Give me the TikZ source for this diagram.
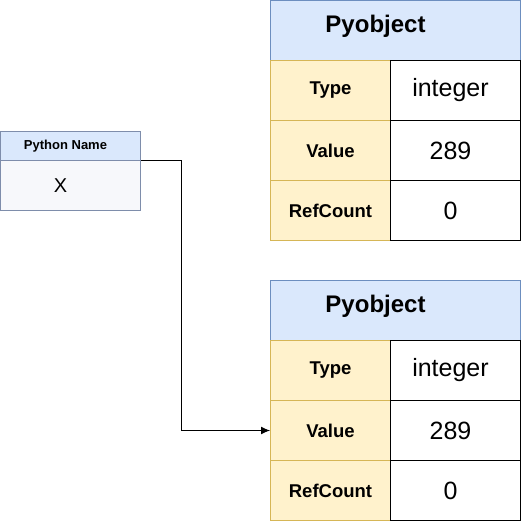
\documentclass[tikz,border=0pt]{standalone}
\usepackage{fontspec}
\setmainfont{Liberation Sans}
\usetikzlibrary{arrows.meta}

\definecolor{hdrfill}{HTML}{DAE8FC}
\definecolor{hdrline}{HTML}{6C8EBF}
\definecolor{keyfill}{HTML}{FFF2CC}
\definecolor{keyline}{HTML}{D6B656}
\definecolor{namefill}{HTML}{F7F8FB}
\definecolor{nameline}{HTML}{7E8DAB}

\tikzset{
	cell/.style={inner sep=0pt,anchor=north west,line width=1pt},
	hdr/.style={cell,draw=hdrline,fill=hdrfill,minimum width=250pt,minimum height=60pt},
	key/.style={cell,draw=keyline,fill=keyfill,minimum width=120pt,minimum height=60pt,font=\bfseries\fontsize{18.5}{21}\selectfont},
	val/.style={cell,draw=black,fill=white,minimum width=130pt,minimum height=60pt,font=\fontsize{25}{28}\selectfont},
	namehdr/.style={cell,draw=nameline,fill=hdrfill,minimum width=140pt,minimum height=29pt,font=\bfseries\fontsize{13}{15}\selectfont},
	namebody/.style={cell,draw=nameline,fill=namefill,minimum width=140pt,minimum height=50pt,font=\fontsize{20}{22}\selectfont},
	link/.style={line width=1pt,-{Latex[length=9pt,width=8pt]}},
}

\begin{document}
\begin{tikzpicture}[x=1pt,y=-1pt]
	\useasboundingbox (0,0) rectangle (521,521);

	% the name
	\node[namehdr] (nm-hdr) at (0,131) {};
	\node[font=\bfseries\fontsize{13}{15}\selectfont] (nm-title) at ([xshift=-5pt]nm-hdr.center) {Python Name};
	\node[namebody] (nm-body) at (0,160) {};
	\node[font=\fontsize{20}{22}\selectfont] (nm-x) at ([xshift=-10pt]nm-body.center) {X};

	% the two objects
	\foreach \t/\y in {a/0,b/280}{
		\node[hdr] (\t-hdr) at (270,\y) {};
		\node[font=\bfseries\fontsize{24}{27}\selectfont] (\t-title) at ([xshift=-20pt,yshift=4pt]\t-hdr.center) {Pyobject};
		\node[key] (\t-key1) at (270,\y+60) {Type};
		\node[key] (\t-key2) at (270,\y+120) {Value};
		\node[key] (\t-key3) at (270,\y+180) {RefCount};
		\node[val] (\t-val1) at (390,\y+60) {};
		\node[val] (\t-val2) at (390,\y+120) {};
		\node[val] (\t-val3) at (390,\y+180) {};
		\node[font=\fontsize{25}{28}\selectfont] (\t-txt1) at ([xshift=-5pt]\t-val1.center) {integer};
		\node[font=\fontsize{25}{28}\selectfont] (\t-txt2) at ([xshift=-5pt]\t-val2.center) {289};
		\node[font=\fontsize{25}{28}\selectfont] (\t-txt3) at ([xshift=-5pt]\t-val3.center) {0};
	}

	\draw[link] (nm-hdr.south east) -- ++(40,0) |- (b-key2.west);
\end{tikzpicture}
\end{document}
